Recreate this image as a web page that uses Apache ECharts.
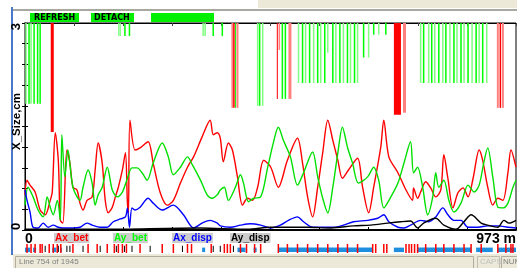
<!DOCTYPE html>
<html>
<head>
<meta charset="utf-8">
<script src="https://cdn.jsdelivr.net/npm/echarts@6/dist/echarts.min.js"></script>
<style>
  html, body { margin: 0; padding: 0; background: #fff; }
  #chart { width: 517px; height: 268px; }
</style>
</head>
<body>
<div id="chart"></div>
<script>
// beam size along the line, [s in m, size in cm]
const axBet = [[0,0.51],[4,0.72],[10,0.65],[20,0.55],[30,0.29],[40,0.22],[50,0.43],[54,0.55],[60,1.41],[66,1.01],[70,0.14],[75,0.10],[83,1.16],[89,0.97],[95,0.62],[103,0.58],[109,0.39],[115,0.29],[123,0.43],[133,0.48],[139,0.87],[145,1.26],[153,0.97],[159,0.43],[165,0.25],[173,0.33],[179,0.48],[185,0.62],[193,0.87],[199,1.12],[203,0.39],[205,0.25],[208,1.59],[218,1.16],[228,1.19],[244,1.28],[254,0.97],[268,0.54],[282,0.36],[294,0.43],[308,0.68],[322,0.91],[334,1.06],[351,1.35],[367,1.59],[373,1.38],[381,1.41],[387,1.33],[393,0.99],[403,1.26],[411,1.16],[421,0.77],[431,0.36],[441,0.46],[451,0.43],[461,0.62],[473,1.01],[487,0.91],[502,0.62],[520,1.01],[540,1.33],[550,0.97],[560,0.48],[570,0.19],[580,0.62],[590,1.12],[600,1.59],[610,1.30],[620,1.01],[629,0.75],[641,0.87],[659,1.04],[669,0.62],[681,0.25],[691,0.62],[705,1.20],[711,1.59],[721,1.06],[739,0.83],[755,0.58],[768,0.43],[770,0.61],[778,0.46],[784,0.55],[794,0.70],[804,0.61],[814,0.48],[824,0.58],[830,1.09],[838,0.75],[848,0.32],[858,0.54],[868,0.61],[878,0.48],[888,0.75],[900,1.16],[907,1.01],[917,0.62],[927,0.36],[937,0.46],[947,0.43],[957,0.83],[963,1.16],[973,0.91]];
const ayBet = [[0,0.36],[6,0.62],[16,0.48],[26,0.29],[36,0.19],[44,0.48],[50,0.33],[56,0.22],[64,0.43],[70,0.14],[73,1.38],[79,0.77],[85,1.16],[95,0.62],[109,0.43],[115,0.62],[125,0.87],[133,0.68],[139,0.36],[145,0.51],[153,0.62],[163,0.91],[173,0.58],[183,0.48],[193,0.55],[203,0.75],[212,0.90],[222,0.90],[232,0.83],[242,0.72],[254,0.97],[272,1.26],[284,1.06],[294,0.80],[308,0.91],[322,1.06],[332,0.94],[348,0.72],[361,0.51],[371,0.46],[381,0.51],[387,0.58],[395,0.62],[403,0.43],[417,0.62],[427,0.80],[433,0.68],[443,0.41],[453,0.46],[467,0.48],[481,0.91],[492,1.26],[502,1.49],[512,1.30],[526,1.06],[540,0.65],[552,0.83],[570,1.13],[580,0.77],[590,0.46],[600,0.25],[610,0.62],[620,1.12],[629,1.49],[639,1.20],[649,0.97],[661,0.68],[679,0.77],[691,0.91],[701,0.72],[711,0.32],[725,0.48],[739,0.68],[751,0.97],[764,1.28],[770,0.83],[778,0.91],[788,0.62],[798,0.22],[808,0.48],[814,0.83],[820,0.62],[830,0.72],[840,0.43],[850,0.26],[864,0.39],[878,0.65],[890,0.55],[900,0.65],[909,0.97],[917,1.19],[927,0.77],[937,0.33],[947,0.32],[957,0.39],[967,0.62],[973,0.72]];
const axDisp = [[0,0.58],[4,0.43],[10,0.26],[16,0.04],[26,0.03],[36,0.10],[46,0.04],[56,0.07],[66,0.04],[75,0.03],[95,0.03],[109,0.04],[123,0.10],[133,0.07],[149,0.04],[163,0.04],[175,0.12],[189,0.16],[199,0.19],[203,0.32],[207,0.04],[212,0.32],[218,0.29],[228,0.33],[244,0.46],[254,0.39],[272,0.29],[294,0.36],[314,0.22],[334,0.03],[351,0.10],[367,0.14],[381,0.10],[387,0.06],[407,0.04],[427,0.07],[447,0.09],[467,0.07],[487,0.03],[506,0.07],[522,0.14],[540,0.19],[552,0.12],[570,0.04],[592,0.04],[612,0.04],[631,0.07],[651,0.12],[679,0.14],[699,0.17],[711,0.22],[721,0.12],[739,0.04],[751,0.03],[764,0.07],[784,0.14],[800,0.12],[814,0.19],[828,0.32],[838,0.22],[850,0.14],[864,0.14],[878,0.04],[898,0.04],[917,0.06],[937,0.06],[957,0.04],[973,0.03]];
const ayDisp = [[0,0.01],[149,0.01],[347,0.03],[441,0.01],[487,0.04],[560,0.04],[606,0.03],[651,0.06],[685,0.07],[719,0.10],[745,0.12],[764,0.13],[778,0.03],[790,0.10],[814,0.17],[830,0.07],[854,0.01],[870,0.12],[884,0.22],[904,0.10],[917,0.07],[937,0.04],[949,0.14],[959,0.10],[973,0.14]];

// elements hanging from the top, [s in m, length in m, depth from top in cm]
const hangGreen = [[8,3,1.17],[18,3,1.17],[25,3,1.17],[30,3,1.17],[198,3,0.19],[207,3,0.19],[373,3,0.19],[391,3,0.19],[417,2,1.23],[465,3,1.2],[510,3,1.1],[516,3,1.1],[550,3,0.87],[564,3,0.87],[580,3,0.87],[594,3,0.87],[610,3,0.87],[624,3,0.87],[639,3,0.87],[653,3,0.87],[671,3,0.5],[691,3,0.17],[715,3,0.17],[790,3,0.87],[806,3,0.87],[820,3,0.87],[834,3,0.87],[850,3,0.87],[864,3,0.87],[878,3,0.87],[894,3,0.87],[907,3,0.87]];
const hangLight = [[2,3,1.17],[12,3,1.17],[186,3,0.19],[189,2,0.19],[353,3,0.19],[357,3,0.19],[461,3,1.2],[471,3,1.2],[542,3,0.87],[556,3,0.87],[572,3,0.87],[586,3,0.87],[600,3,0.43],[616,3,0.87],[631,3,0.87],[645,3,0.87],[659,3,0.87],[681,3,0.5],[701,3,0.17],[784,3,0.87],[800,3,0.87],[812,3,0.87],[828,3,0.87],[842,3,0.87],[856,3,0.87],[870,3,0.87],[886,3,0.87],[900,3,0.87],[915,3,0.87]];
const hangRed = [[54,6,1.58],[414,3,1.23],[500,2,1.1],[738,14,1.33],[942,3,1.23]];
const hangPink = [[411,4,1.23],[421,4,1.23],[504,3,0.39],[525,6,1.1],[752,6,1.3],[937,4,1.23],[947,4,1.23]];

// lattice strip under the axis
const latBends = [[0,10],[16,22],[54,62],[70,73],[351,357],[421,437],[453,459],[502,689],[731,751],[778,884],[894,927],[937,973]];
const latQuads = [4,12,20,30,34,48,56,64,71,95,125,143,163,177,185,193,201,228,272,294,322,330,369,395,401,407,427,439,455,467,502,520,540,560,580,600,620,639,659,689,695,711,717,755,761,766,772,778,794,814,830,850,870,884,904,937,953,963,967];
const latOther = [40,66,83,89,115,149,181,197,212,248,312,373,387,413];

const xTicks = [0, 973];
const yTicks = [0, 3];

const FONT = '"Liberation Sans", Arial, sans-serif';
const chart = echarts.init(document.getElementById('chart'));

function hangSeries(data, color) {
  return {
    type: 'custom',
    xAxisIndex: 0,
    yAxisIndex: 1,
    data: data,
    encode: { x: 0, y: 2 },
    z: 1,
    renderItem: function (params, api) {
      const s = api.value(0), len = api.value(1), d = api.value(2);
      const p0 = api.coord([s - len / 2, 0]);
      const p1 = api.coord([s + len / 2, d]);
      return {
        type: 'rect',
        shape: { x: p0[0], y: p0[1], width: Math.max(p1[0] - p0[0], 1), height: p1[1] - p0[1] },
        style: { fill: color }
      };
    }
  };
}

function markSeries(data, color, y0, y1, widthPx) {
  return {
    type: 'custom',
    xAxisIndex: 2,
    yAxisIndex: 2,
    data: data.map((v) => Array.isArray(v) ? v : [v, v]),
    encode: { x: [0, 1] },
    renderItem: function (params, api) {
      const a = api.coord([api.value(0), y1]);
      const b = api.coord([api.value(1), y0]);
      const w = Math.max(b[0] - a[0], widthPx);
      return {
        type: 'rect',
        shape: { x: a[0] - (widthPx && b[0] === a[0] ? widthPx / 2 : 0), y: a[1], width: w, height: b[1] - a[1] },
        style: { fill: color }
      };
    }
  };
}

function lineSeries(name, data, color) {
  return {
    name: name,
    type: 'line',
    data: data,
    xAxisIndex: 0,
    yAxisIndex: 0,
    showSymbol: false,
    smooth: 0.3,
    z: 3,
    lineStyle: { color: color, width: 1.4 }
  };
}

function legendText(x, text, color) {
  return {
    type: 'text',
    x: x,
    y: 233,
    style: {
      text: text, fill: color, font: 'bold 10px ' + FONT,
      backgroundColor: '#cdcdcd', padding: [0, 1, 0, 1]
    }
  };
}

chart.setOption({
  animation: false,
  grid: [
    { left: 25, right: 1, top: 23, height: 207, show: true, borderColor: '#000', borderWidth: 1, outerBoundsMode: 'none' },
    { left: 25, right: 1, top: 244, height: 9, outerBoundsMode: 'none' }
  ],
  xAxis: [
    {
      gridIndex: 0, type: 'value', min: 0, max: 973, interval: 97.3,
      axisLine: { lineStyle: { color: '#000', width: 2 } },
      axisTick: { inside: true, length: 3, lineStyle: { color: '#000' } },
      splitLine: { show: false },
      axisLabel: {
        customValues: xTicks, formatter: (v) => (v === 973 ? '973 m' : '0'),
        alignMinLabel: 'left', alignMaxLabel: 'right',
        fontFamily: FONT, fontWeight: 'bold', fontSize: 14, color: '#000', margin: 2
      }
    },
    {
      gridIndex: 0, type: 'value', min: 0, max: 973, interval: 97.3, position: 'top',
      axisLine: { show: true, lineStyle: { color: '#000' } },
      axisTick: { inside: true, length: 3, lineStyle: { color: '#444' } },
      axisLabel: { show: false }, splitLine: { show: false }
    },
    { gridIndex: 1, type: 'value', min: 0, max: 973, show: false }
  ],
  yAxis: [
    {
      gridIndex: 0, type: 'value', min: 0, max: 3, interval: 0.3,
      name: 'X_Size,cm', nameLocation: 'middle', nameGap: 2, nameMoveOverlap: false,
      nameTextStyle: { fontFamily: FONT, fontWeight: 'bold', fontSize: 11.5, color: '#000', padding: [0, 0, 0, 10] },
      axisLine: { show: true, lineStyle: { color: '#808080', width: 2 } },
      axisTick: { inside: true, length: 3, lineStyle: { color: '#000' } },
      splitLine: { show: false },
      axisLabel: {
        customValues: yTicks, rotate: 90, alignMinLabel: 'left', alignMaxLabel: 'right',
        fontFamily: FONT, fontWeight: 'bold', fontSize: 13, color: '#000', margin: 2
      }
    },
    {
      gridIndex: 0, type: 'value', min: 0, max: 3, interval: 0.3, inverse: true, position: 'right',
      axisLine: { show: true, lineStyle: { color: '#000' } },
      axisTick: { inside: true, length: 3, lineStyle: { color: '#000' } },
      axisLabel: { show: false }, splitLine: { show: false }
    },
    { gridIndex: 1, type: 'value', min: 0, max: 1, show: false }
  ],
  series: [
    hangSeries(hangLight, '#80ff80'),
    hangSeries(hangGreen, '#00ff00'),
    hangSeries(hangPink, '#ff8080'),
    hangSeries(hangRed, '#ff0000'),
    lineSeries('Ax_bet', axBet, '#ff0000'),
    lineSeries('Ay_bet', ayBet, '#00e000'),
    lineSeries('Ax_disp', axDisp, '#0000ff'),
    lineSeries('Ay_disp', ayDisp, '#000000'),
    markSeries(latBends, '#1e8fe0', 0.1, 0.6, 0),
    markSeries(latOther, '#000000', 0.1, 0.8, 1),
    markSeries(latQuads, '#ff0000', 0, 1, 1.5)
  ],
  graphic: [
    { type: 'rect', shape: { x: 258, y: 0, width: 259, height: 8 }, style: { fill: '#ece9d8' }, silent: true },
    { type: 'rect', shape: { x: 12, y: 9, width: 505, height: 2 }, style: { fill: '#a8a8a0' }, silent: true },
    { type: 'rect', shape: { x: 11, y: 7, width: 2, height: 248 }, style: { fill: '#4a78c8' }, silent: true },
    { type: 'rect', shape: { x: 30, y: 13, width: 49, height: 9 }, style: { fill: '#00f000' } },
    { type: 'text', x: 34, y: 13.5, style: { text: 'REFRESH', fill: '#000', font: 'bold 8px "DejaVu Sans", sans-serif' } },
    { type: 'rect', shape: { x: 91, y: 13, width: 43, height: 9 }, style: { fill: '#00f000' } },
    { type: 'text', x: 94, y: 13.5, style: { text: 'DETACH', fill: '#000', font: 'bold 8px "DejaVu Sans", sans-serif' } },
    { type: 'rect', shape: { x: 151, y: 13, width: 63, height: 9 }, style: { fill: '#00f000' } },
    legendText(54, 'Ax_bet', '#ff0000'),
    legendText(113, 'Ay_bet', '#00ff00'),
    legendText(172, 'Ax_disp', '#0000ff'),
    legendText(230, 'Ay_disp', '#000000'),
    { type: 'rect', shape: { x: 13, y: 254, width: 504, height: 14 }, style: { fill: '#ece9d8' } },
    { type: 'rect', shape: { x: 15.5, y: 256.5, width: 458, height: 12 }, style: { fill: 'none', stroke: '#b0aca0', lineWidth: 1 } },
    { type: 'text', x: 19, y: 258, style: { text: 'Line 754 of 1945', fill: '#808080', font: '8px ' + FONT } },
    { type: 'rect', shape: { x: 477.5, y: 256.5, width: 22, height: 12 }, style: { fill: 'none', stroke: '#c0bcb0', lineWidth: 1 } },
    { type: 'text', x: 480, y: 258, style: { text: 'CAPS', fill: '#c0c0c0', font: '8px ' + FONT } },
    { type: 'rect', shape: { x: 501.5, y: 256.5, width: 18, height: 12 }, style: { fill: 'none', stroke: '#b0aca0', lineWidth: 1 } },
    { type: 'text', x: 503, y: 258, style: { text: 'NUM', fill: '#808080', font: '8px ' + FONT } }
  ]
});
</script>
</body>
</html>
